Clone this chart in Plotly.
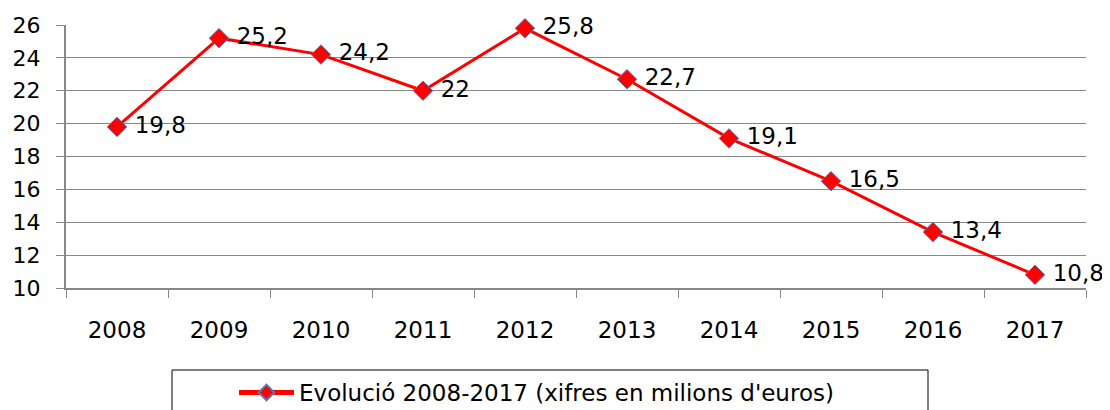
import plotly.graph_objects as go

years = ["2008", "2009", "2010", "2011", "2012", "2013", "2014", "2015", "2016", "2017"]
values = [19.8, 25.2, 24.2, 22.0, 25.8, 22.7, 19.1, 16.5, 13.4, 10.8]
labels = ["19,8", "25,2", "24,2", "22", "25,8", "22,7", "19,1", "16,5", "13,4", "10,8"]
series_name = "Evolució 2008-2017 (xifres en milions d'euros)"
y_ticks = [10, 12, 14, 16, 18, 20, 22, 24, 26]

FONT = "DejaVu Sans"
GRID = "#888888"

fig = go.Figure()
fig.add_trace(go.Scatter(
    x=years, y=values, mode="lines+markers+text",
    name=series_name,
    text=[" " + s for s in labels], textposition="middle right",
    textfont=dict(family=FONT, size=23, color="#000000"),
    line=dict(color="#ff0000", width=3),
    marker=dict(symbol="diamond", size=15, color="#ff0000",
                line=dict(color="#4a7ebb", width=1)),
    cliponaxis=False,
))

# page body has an 8px margin; positions below are in page pixels minus 8
OFF = 8
W, H = 1110, 410
PL, PR, PT, PB = 66 - OFF, 1086 - OFF, 25 - OFF, 288 - OFF
pw, ph = PR - PL, PB - PT

def px(x):
    return (x - OFF - PL) / pw

def py(y):
    return (PB - (y - OFF)) / ph

fig.add_shape(type="rect", xref="paper", yref="paper",
              x0=px(172), x1=px(928), y0=py(370), y1=py(420),
              line=dict(color="#000000", width=1), fillcolor="rgba(0,0,0,0)")

fig.update_layout(
    width=W, height=H,
    margin=dict(l=PL, r=W - PR, t=PT, b=H - PB, pad=0, autoexpand=False),
    paper_bgcolor="white", plot_bgcolor="white",
    font=dict(family=FONT, size=22, color="#000000"),
    showlegend=True,
    legend=dict(orientation="h", x=px(234), xanchor="left", y=py(371), yanchor="top",
                font=dict(family=FONT, size=23, color="#000000"),
                itemwidth=55, itemsizing="constant",
                bgcolor="rgba(0,0,0,0)", borderwidth=0),
    xaxis=dict(type="category", range=[-0.5, len(years) - 0.5],
               tickson="boundaries", ticks="outside", ticklen=8,
               tickcolor=GRID, showline=True, linecolor=GRID, linewidth=2,
               showgrid=False, ticklabelstandoff=20, automargin=False,
               tickfont=dict(family=FONT, size=23)),
    yaxis=dict(range=[10, 26], tickvals=y_ticks, ticks="outside", ticklen=8,
               tickcolor=GRID, showline=True, linecolor=GRID, linewidth=2,
               showgrid=True, gridcolor=GRID, gridwidth=1, zeroline=False,
               ticklabelstandoff=11, automargin=False,
               tickfont=dict(family=FONT, size=22)),
)

fig.write_html("out.html")
